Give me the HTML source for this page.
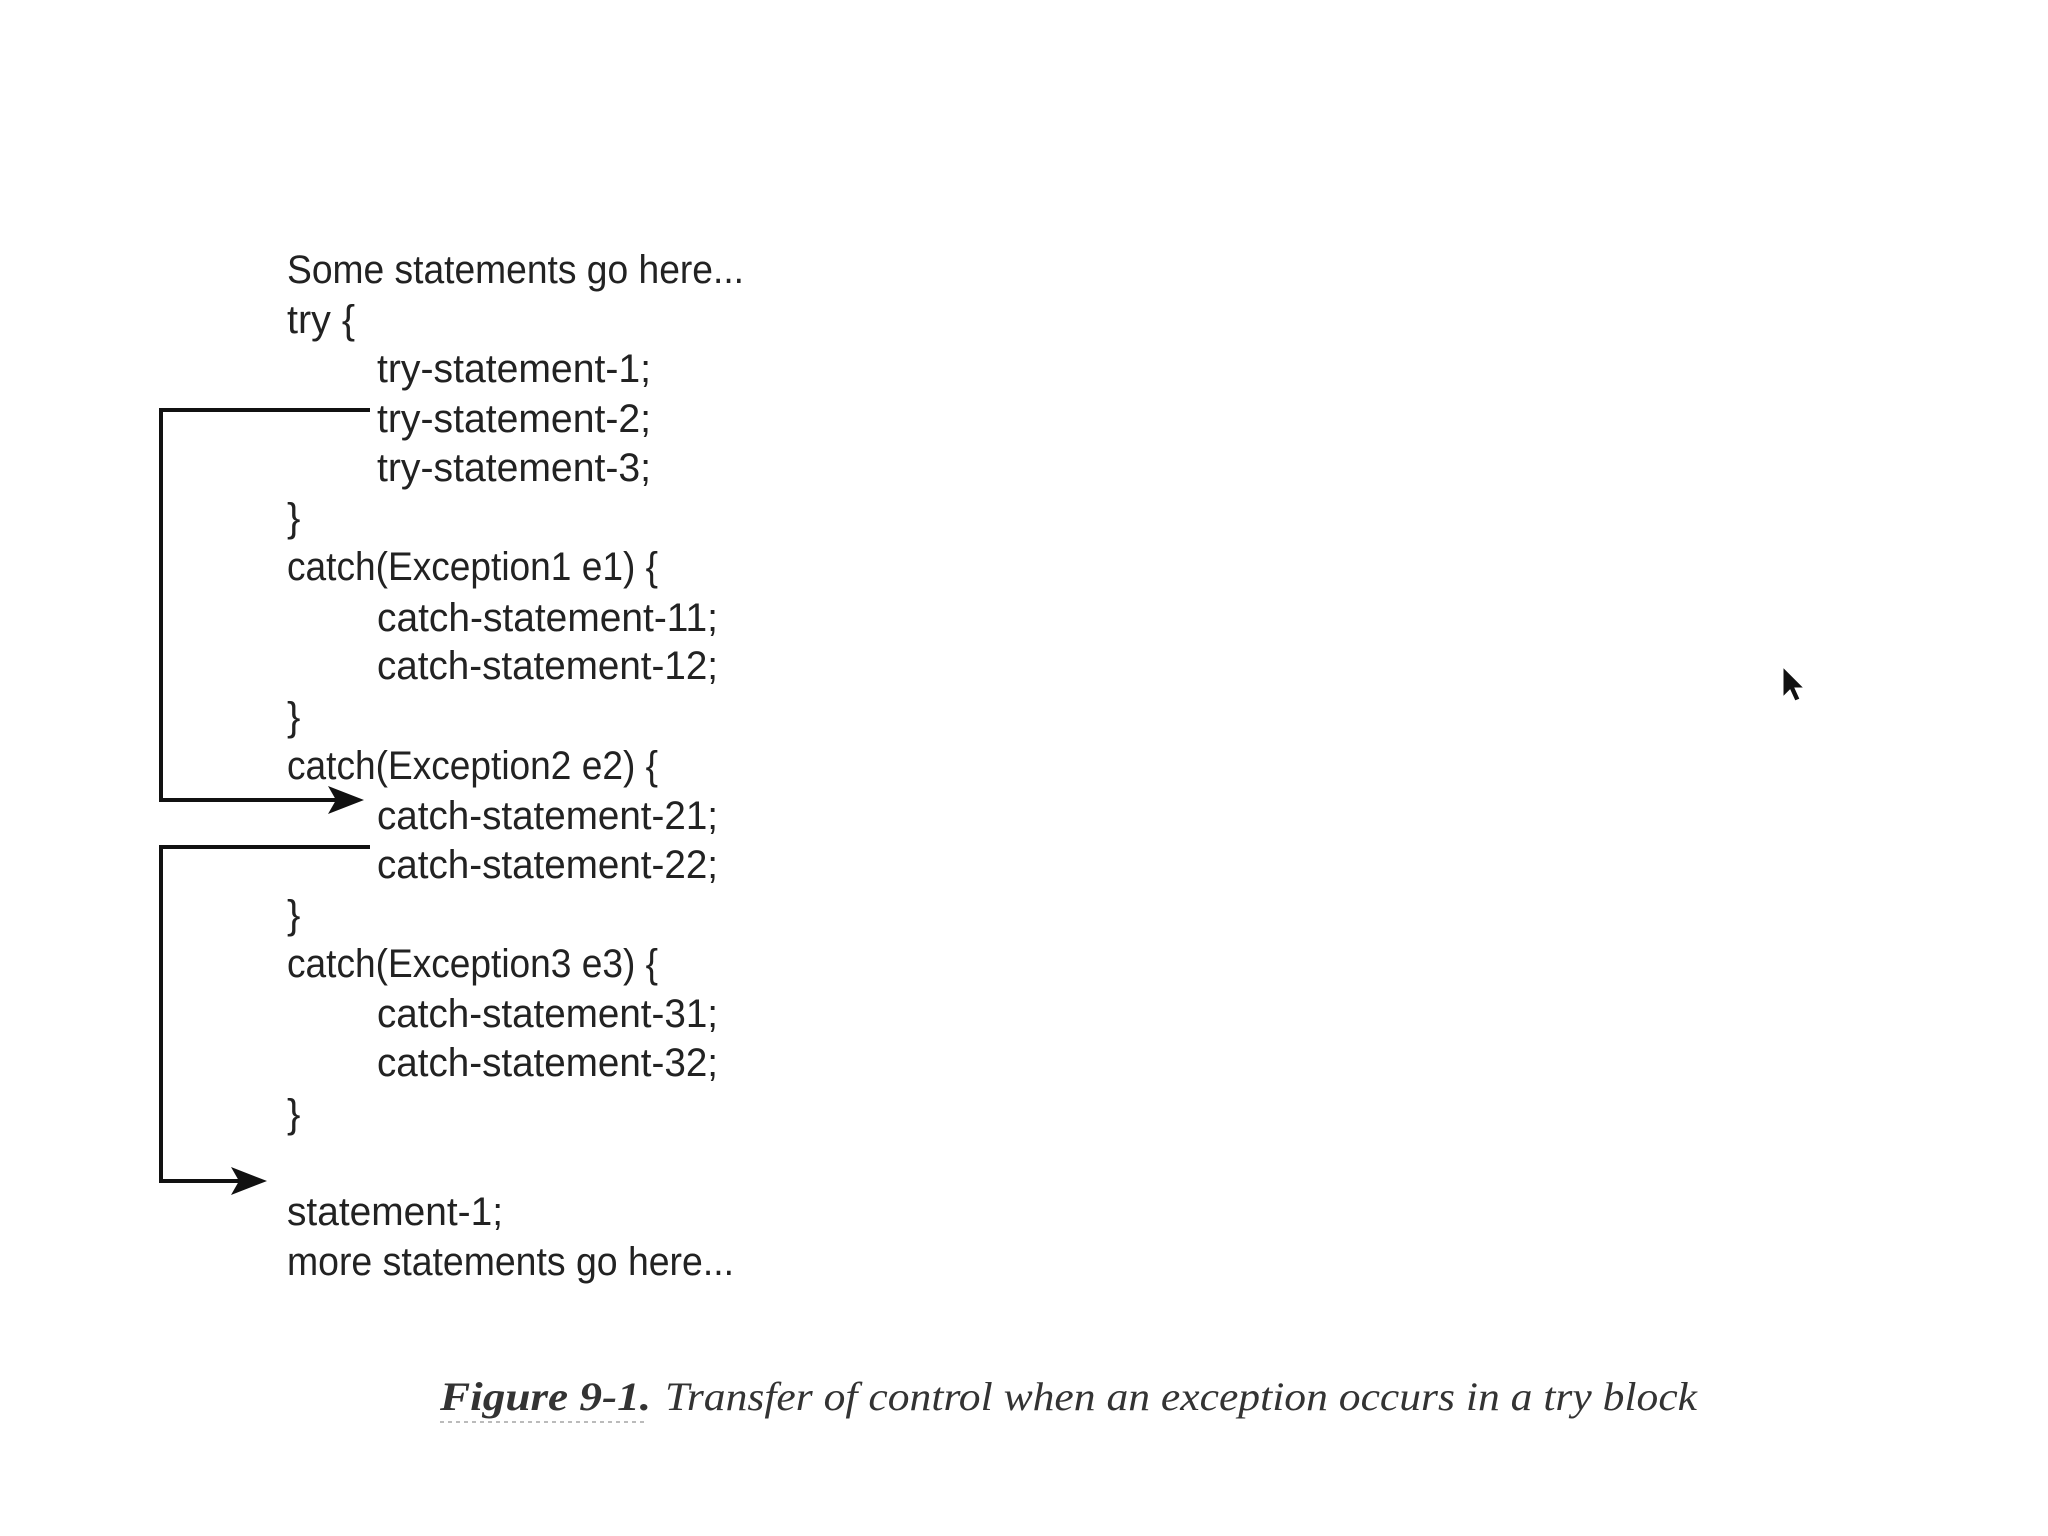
<!DOCTYPE html>
<html><head><style>html,body{margin:0;padding:0;background:#fff}svg{display:block}</style></head>
<body>
<svg width="2048" height="1536" viewBox="0 0 2048 1536" xmlns="http://www.w3.org/2000/svg">
<rect width="2048" height="1536" fill="#fff"/>
<g font-family="Liberation Sans, sans-serif" font-size="40" fill="#222" lengthAdjust="spacingAndGlyphs">
<text x="287" y="283" textLength="457" lengthAdjust="spacingAndGlyphs">Some statements go here...</text>
<text x="287" y="333" textLength="68" lengthAdjust="spacingAndGlyphs">try {</text>
<text x="377" y="382" textLength="274" lengthAdjust="spacingAndGlyphs">try-statement-1;</text>
<text x="377" y="432" textLength="274" lengthAdjust="spacingAndGlyphs">try-statement-2;</text>
<text x="377" y="481" textLength="274" lengthAdjust="spacingAndGlyphs">try-statement-3;</text>
<text x="287" y="531">}</text>
<text x="287" y="580" textLength="371" lengthAdjust="spacingAndGlyphs">catch(Exception1 e1) {</text>
<text x="377" y="631" textLength="341" lengthAdjust="spacingAndGlyphs">catch-statement-11;</text>
<text x="377" y="679" textLength="341" lengthAdjust="spacingAndGlyphs">catch-statement-12;</text>
<text x="287" y="730">}</text>
<text x="287" y="779" textLength="371" lengthAdjust="spacingAndGlyphs">catch(Exception2 e2) {</text>
<text x="377" y="829" textLength="341" lengthAdjust="spacingAndGlyphs">catch-statement-21;</text>
<text x="377" y="878" textLength="341" lengthAdjust="spacingAndGlyphs">catch-statement-22;</text>
<text x="287" y="928">}</text>
<text x="287" y="977" textLength="371" lengthAdjust="spacingAndGlyphs">catch(Exception3 e3) {</text>
<text x="377" y="1027" textLength="341" lengthAdjust="spacingAndGlyphs">catch-statement-31;</text>
<text x="377" y="1076" textLength="341" lengthAdjust="spacingAndGlyphs">catch-statement-32;</text>
<text x="287" y="1127">}</text>
<text x="287" y="1225" textLength="216" lengthAdjust="spacingAndGlyphs">statement-1;</text>
<text x="287" y="1275" textLength="447" lengthAdjust="spacingAndGlyphs">more statements go here...</text>
</g>
<g stroke="#111" stroke-width="4" fill="none">
<polyline points="370,410 161,410 161,800 345,800"/>
<polyline points="370,847 161,847 161,1181 248,1181"/>
</g>
<polygon points="364,800 328,786 336,800 328,814" fill="#111"/>
<polygon points="267,1181 231,1167 239,1181 231,1195" fill="#111"/>
<g font-family="Liberation Serif, serif" font-style="italic" fill="#333" font-size="40">
<text x="440" y="1410" font-weight="bold" textLength="211" lengthAdjust="spacingAndGlyphs">Figure 9-1.</text>
<text x="665" y="1410" textLength="1032" lengthAdjust="spacingAndGlyphs">Transfer of control when an exception occurs in a try block</text>
</g>
<line x1="440" y1="1422" x2="648" y2="1422" stroke="#bbb" stroke-width="2" stroke-dasharray="4,4"/>
<polygon points="1783,667 1783,697 1790,690 1795,701 1800,699 1795,688 1804,688" fill="#111" stroke="#fff" stroke-width="1"/>
</svg>
</body></html>
